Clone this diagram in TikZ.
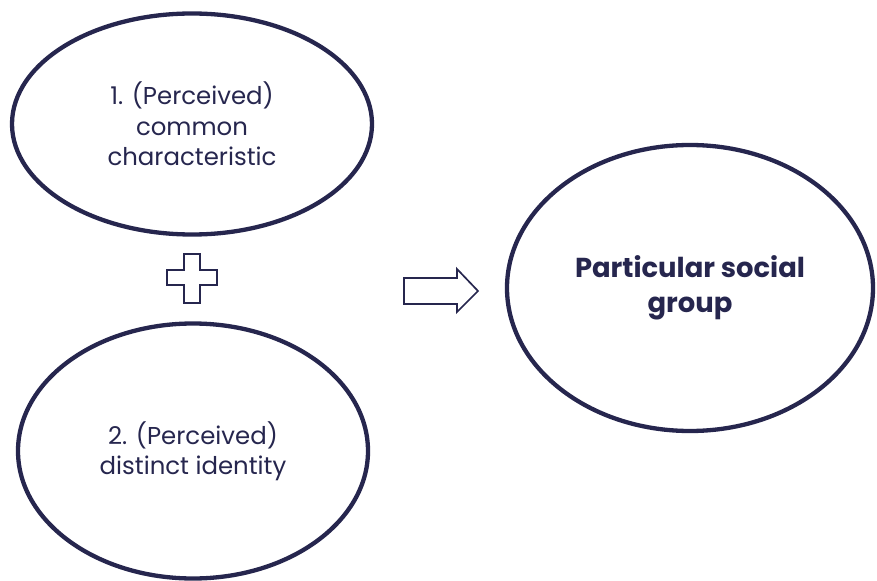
\documentclass[tikz,border=0pt]{standalone}
\usepackage{fontspec}
\setmainfont{Poppins}
\usetikzlibrary{shapes.geometric}
\definecolor{navy}{RGB}{38,38,78}
\tikzset{
  bubble/.style={draw=navy, line width=4.3bp, ellipse, text=navy, align=center,
    inner sep=0pt, font=\fontsize{24.5}{30.5}\selectfont},
  outline/.style={draw=navy, line width=1.7bp, line join=miter}
}
\begin{document}
\begin{tikzpicture}[x=1bp,y=-1bp]
\useasboundingbox (0,0) rectangle (877,581);
\node (common) [bubble, minimum width=360bp, minimum height=221bp] at (192,124) {1. (Perceived)\\common\\characteristic};
\node (distinct) [bubble, minimum width=350bp, minimum height=255bp] at (193,451) {2. (Perceived)\\distinct identity};
\node (group) [bubble, font=\fontsize{27.5}{35}\selectfont\bfseries, minimum width=366bp, minimum height=286bp] at (690,288) {Particular social\\group};
% plus sign
\draw[outline] (184,254) -- (200,254) -- (200,270) -- (217,270) -- (217,285) -- (200,285) -- (200,303) -- (184,303) -- (184,285) -- (167,285) -- (167,270) -- (184,270) -- cycle;
% block arrow
\draw[outline] (404,278) -- (457,278) -- (457,269) -- (478,291) -- (457,312) -- (457,304) -- (404,304) -- cycle;
\end{tikzpicture}
\end{document}
